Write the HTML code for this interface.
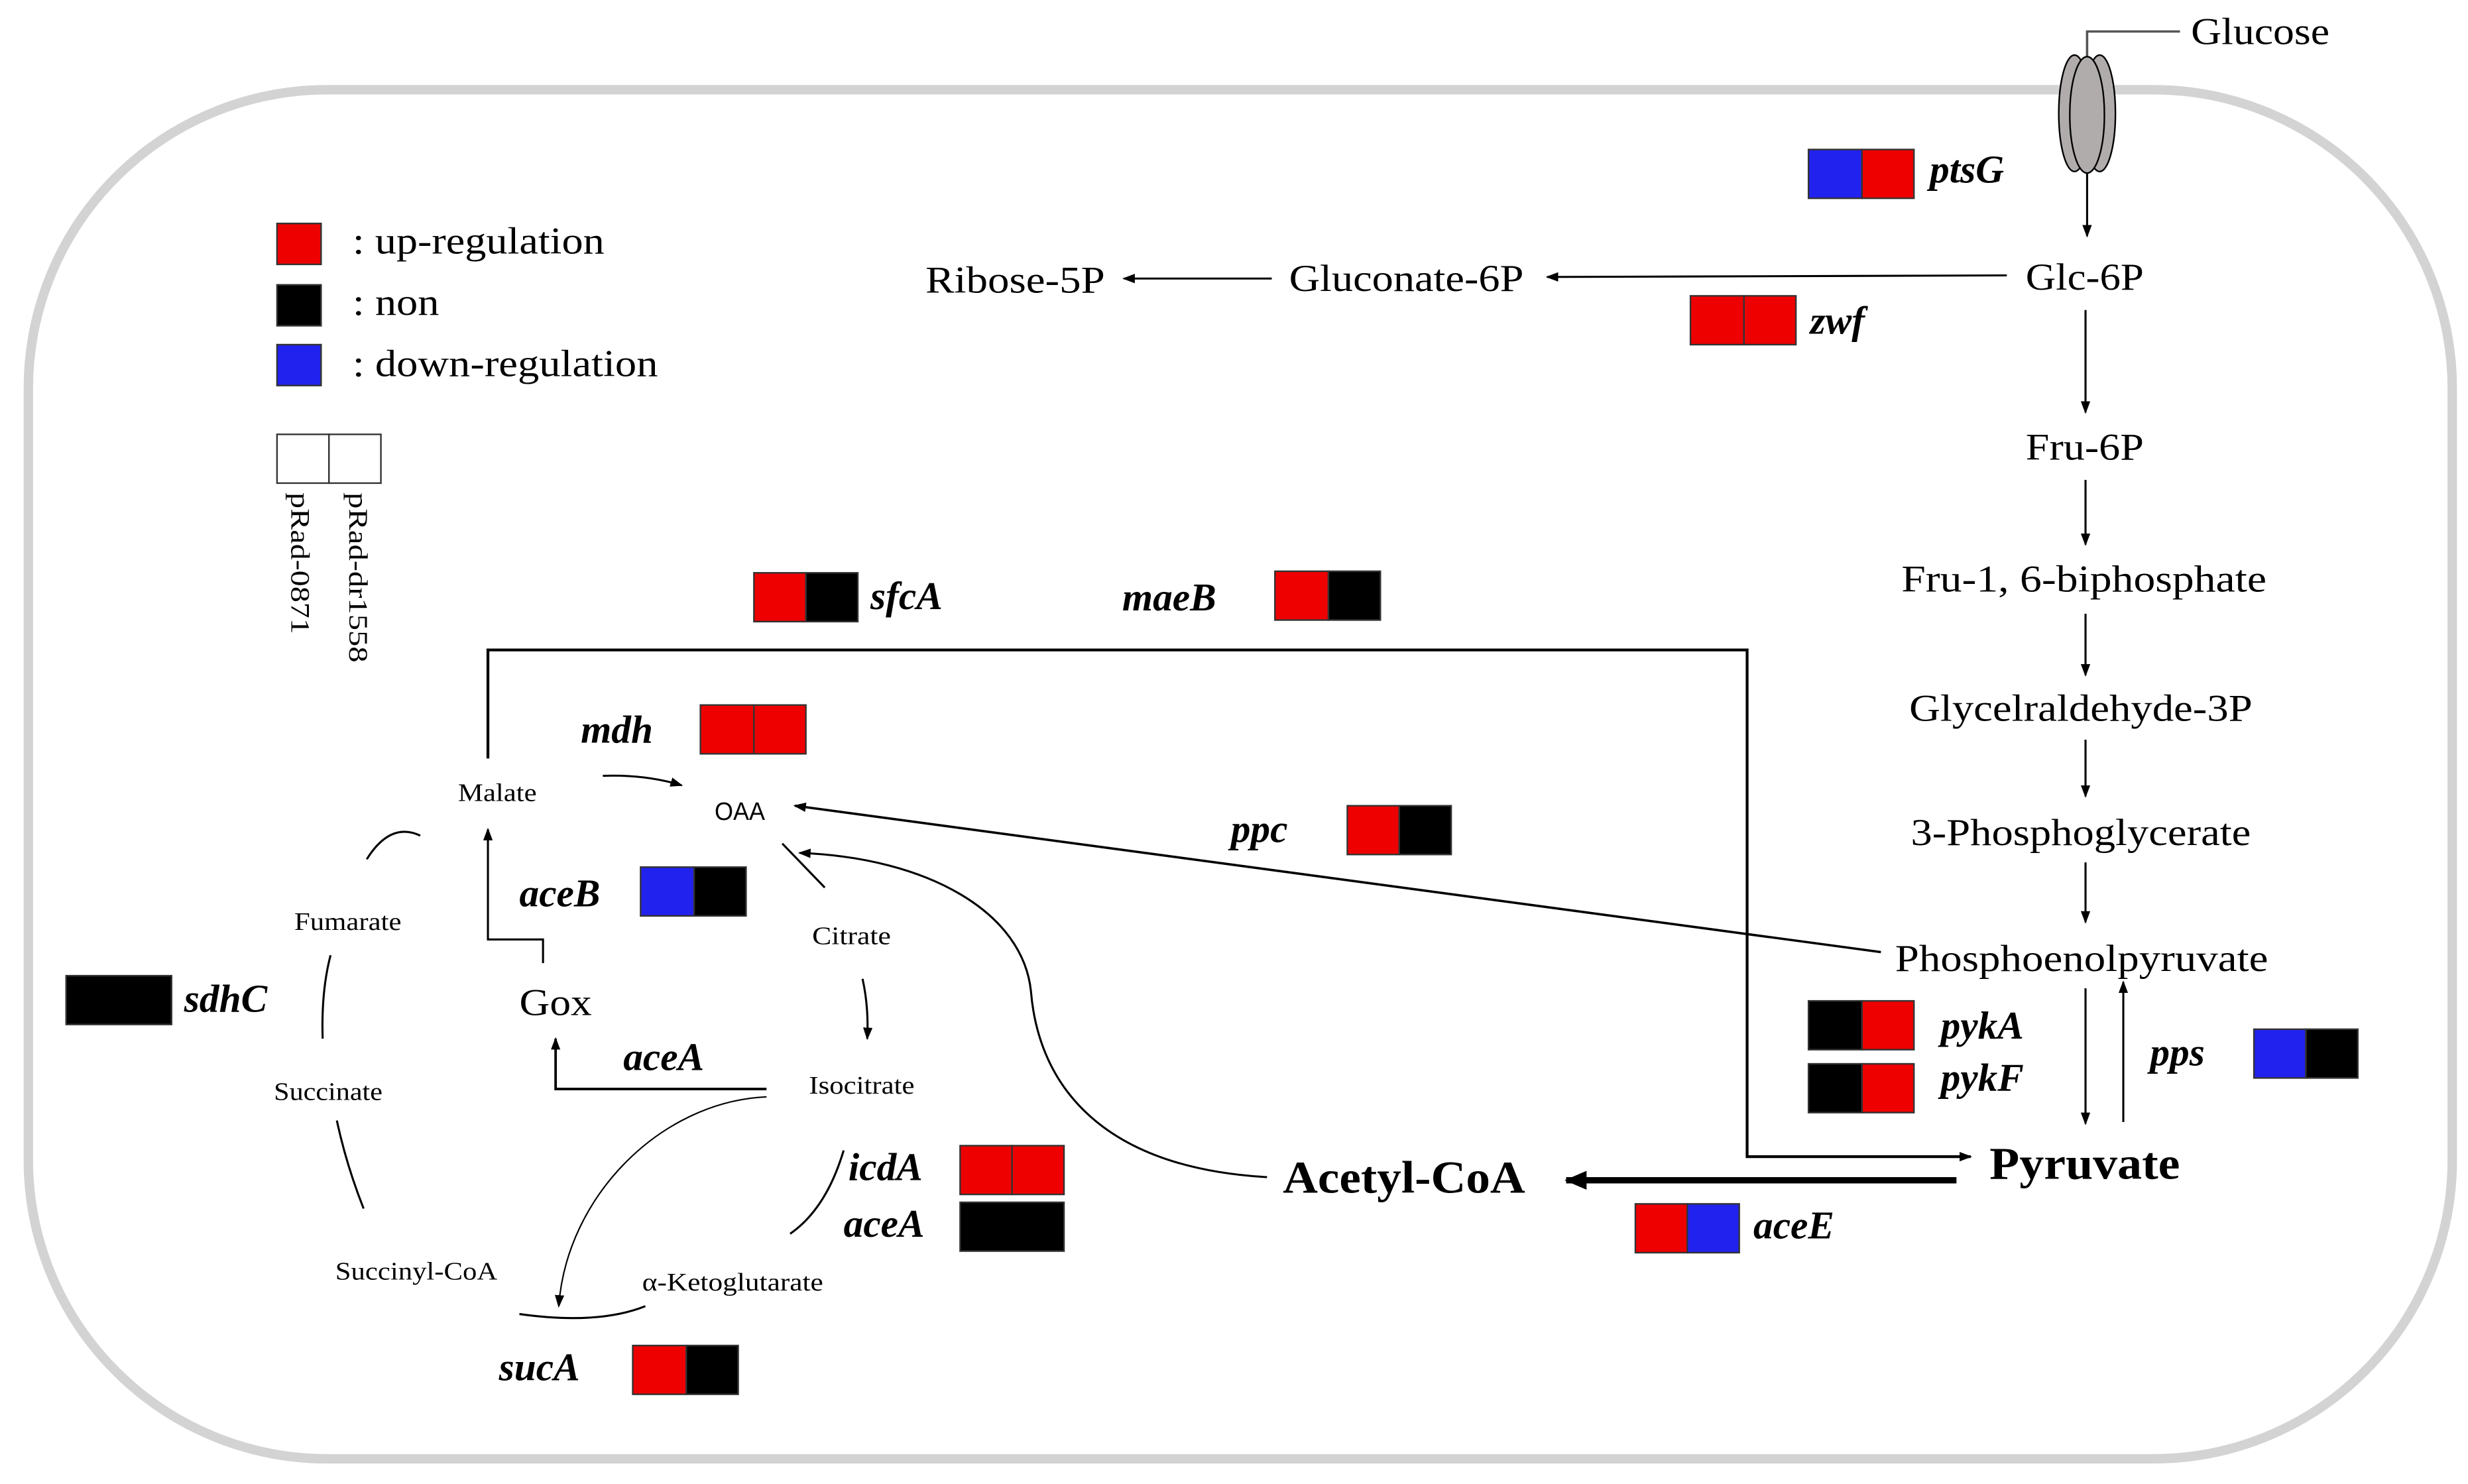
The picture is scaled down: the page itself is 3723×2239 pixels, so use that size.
<!DOCTYPE html>
<html><head><meta charset="utf-8"><style>html,body{margin:0;padding:0;background:#fff}svg{display:block}</style></head>
<body>
<svg width="3723" height="2239" viewBox="0 0 1568 943" preserveAspectRatio="none" xmlns="http://www.w3.org/2000/svg" font-family="'Liberation Serif', serif">
<defs>
<marker id="a" markerWidth="8" markerHeight="8" refX="7" refY="4" orient="auto" markerUnits="userSpaceOnUse"><path d="M0,1 L8,4 L0,7 Z" fill="#000"/></marker>
<marker id="b" markerWidth="14" markerHeight="12" refX="13" refY="6" orient="auto" markerUnits="userSpaceOnUse"><path d="M0,0 L14,6 L0,12 Z" fill="#000"/></marker>
</defs>
<rect x="18" y="57" width="1540" height="870" rx="190" ry="190" fill="none" stroke="#d3d3d3" stroke-width="6"/>
<path d="M1385,20 L1326,20 L1326,40" fill="none" stroke="#555" stroke-width="1.5"/>
<ellipse cx="1318" cy="72" rx="10" ry="37" fill="#b0acac" stroke="#000" stroke-width="1"/>
<ellipse cx="1334" cy="72" rx="10" ry="37" fill="#b0acac" stroke="#000" stroke-width="1"/>
<ellipse cx="1326" cy="73" rx="11" ry="37" fill="#b0acac" stroke="#000" stroke-width="1"/>
<g fill="none" stroke="#000" stroke-width="1.3">
<line x1="1326" y1="110" x2="1326" y2="150" marker-end="url(#a)"/>
<line x1="1275" y1="175" x2="983" y2="176" marker-end="url(#a)"/>
<line x1="808" y1="177" x2="714" y2="177" marker-end="url(#a)"/>
<line x1="1325" y1="197" x2="1325" y2="262" marker-end="url(#a)"/>
<line x1="1325" y1="305" x2="1325" y2="346" marker-end="url(#a)"/>
<line x1="1325" y1="390" x2="1325" y2="429" marker-end="url(#a)"/>
<line x1="1325" y1="470" x2="1325" y2="506" marker-end="url(#a)"/>
<line x1="1325" y1="548" x2="1325" y2="586" marker-end="url(#a)"/>
<line x1="1325" y1="628" x2="1325" y2="714" marker-end="url(#a)"/>
<line x1="1349" y1="713" x2="1349" y2="624" marker-end="url(#a)"/>
<path d="M310,482 L310,413 L1110,413 L1110,735 L1252,735" stroke-width="1.8" marker-end="url(#a)"/>
<line x1="1195" y1="605" x2="505" y2="512" stroke-width="1.5" marker-end="url(#a)"/>
<path d="M805,748 C700,742 660,690 655,630 C650,580 590,545 508,542" marker-end="url(#a)"/>
<path d="M383,493 Q410,492 433,499" marker-end="url(#a)"/>
<line x1="497" y1="536" x2="524" y2="564"/>
<path d="M548,622 Q552,640 551,660" marker-end="url(#a)"/>
<path d="M487,692 L353,692 L353,660" stroke-width="1.6" marker-end="url(#a)"/>
<path d="M345,612 L345,597 L310,597 L310,527" marker-end="url(#a)"/>
<path d="M487,697 C420,700 360,760 355,830" stroke-width="0.9" marker-end="url(#a)"/>
<path d="M536,731 Q525,768 502,784"/>
<path d="M410,830 Q380,842 330,835"/>
<path d="M231,768 Q220,740 214,712"/>
<path d="M205,660 Q204,630 210,607"/>
<path d="M233,546 Q248,522 267,531"/>
</g>
<line x1="1243" y1="750" x2="995" y2="750" stroke="#000" stroke-width="4" marker-end="url(#b)"/>
<g stroke="#333" stroke-width="1">
<rect x="1149" y="95" width="34" height="31" fill="#2222ee"/><rect x="1183" y="95" width="33" height="31" fill="#ee0000"/>
<rect x="1074" y="188" width="34" height="31" fill="#ee0000"/><rect x="1108" y="188" width="33" height="31" fill="#ee0000"/>
<rect x="479" y="364" width="33" height="31" fill="#ee0000"/><rect x="512" y="364" width="33" height="31" fill="#000"/>
<rect x="810" y="363" width="34" height="31" fill="#ee0000"/><rect x="844" y="363" width="33" height="31" fill="#000"/>
<rect x="445" y="448" width="34" height="31" fill="#ee0000"/><rect x="479" y="448" width="33" height="31" fill="#ee0000"/>
<rect x="856" y="512" width="33" height="31" fill="#ee0000"/><rect x="889" y="512" width="33" height="31" fill="#000"/>
<rect x="407" y="551" width="34" height="31" fill="#2222ee"/><rect x="441" y="551" width="33" height="31" fill="#000"/>
<rect x="42" y="620" width="67" height="31" fill="#000"/>
<rect x="1149" y="636" width="34" height="31" fill="#000"/><rect x="1183" y="636" width="33" height="31" fill="#ee0000"/>
<rect x="1149" y="676" width="34" height="31" fill="#000"/><rect x="1183" y="676" width="33" height="31" fill="#ee0000"/>
<rect x="1432" y="654" width="33" height="31" fill="#2222ee"/><rect x="1465" y="654" width="33" height="31" fill="#000"/>
<rect x="610" y="728" width="33" height="31" fill="#ee0000"/><rect x="643" y="728" width="33" height="31" fill="#ee0000"/>
<rect x="610" y="764" width="66" height="31" fill="#000"/>
<rect x="1039" y="765" width="33" height="31" fill="#ee0000"/><rect x="1072" y="765" width="33" height="31" fill="#2222ee"/>
<rect x="402" y="855" width="34" height="31" fill="#ee0000"/><rect x="436" y="855" width="33" height="31" fill="#000"/>
<rect x="176" y="142" width="28" height="26" fill="#ee0000"/>
<rect x="176" y="181" width="28" height="26" fill="#000"/>
<rect x="176" y="219" width="28" height="26" fill="#2222ee"/>
<rect x="176" y="276" width="33" height="31" fill="#fff"/><rect x="209" y="276" width="33" height="31" fill="#fff"/>
</g>
<g font-size="24" fill="#000" lengthAdjust="spacingAndGlyphs">
<text x="224" y="161" textLength="160" lengthAdjust="spacingAndGlyphs">: up-regulation</text>
<text x="224" y="200" textLength="55" lengthAdjust="spacingAndGlyphs">: non</text>
<text x="224" y="239" textLength="194" lengthAdjust="spacingAndGlyphs">: down-regulation</text>
</g>
<text font-size="17" transform="translate(185,313) rotate(90)" textLength="90" lengthAdjust="spacingAndGlyphs">pRad-0871</text>
<text font-size="17" transform="translate(222,313) rotate(90)" textLength="108" lengthAdjust="spacingAndGlyphs">pRad-dr1558</text>
<g font-size="24" fill="#000">
<text x="1392" y="28" textLength="88" lengthAdjust="spacingAndGlyphs">Glucose</text>
<text x="1287" y="184" textLength="75" lengthAdjust="spacingAndGlyphs">Glc-6P</text>
<text x="819" y="185" textLength="149" lengthAdjust="spacingAndGlyphs">Gluconate-6P</text>
<text x="588" y="186" textLength="114" lengthAdjust="spacingAndGlyphs">Ribose-5P</text>
<text x="1287" y="292" textLength="75" lengthAdjust="spacingAndGlyphs">Fru-6P</text>
<text x="1208" y="376" textLength="232" lengthAdjust="spacingAndGlyphs">Fru-1, 6-biphosphate</text>
<text x="1213" y="458" textLength="218" lengthAdjust="spacingAndGlyphs">Glycelraldehyde-3P</text>
<text x="1214" y="537" textLength="216" lengthAdjust="spacingAndGlyphs">3-Phosphoglycerate</text>
<text x="1204" y="617" textLength="237" lengthAdjust="spacingAndGlyphs">Phosphoenolpyruvate</text>
<text x="330" y="645" textLength="46" lengthAdjust="spacingAndGlyphs">Gox</text>
</g>
<g font-size="29" font-weight="bold">
<text x="1264" y="749" textLength="121" lengthAdjust="spacingAndGlyphs">Pyruvate</text>
<text x="815" y="758" textLength="154" lengthAdjust="spacingAndGlyphs">Acetyl-CoA</text>
</g>
<g font-size="16">
<text x="291" y="509" textLength="50" lengthAdjust="spacingAndGlyphs">Malate</text>
<text x="454" y="521" font-family="'Liberation Sans', sans-serif" font-size="16" textLength="32" lengthAdjust="spacingAndGlyphs">OAA</text>
<text x="516" y="600" textLength="50" lengthAdjust="spacingAndGlyphs">Citrate</text>
<text x="514" y="695" textLength="67" lengthAdjust="spacingAndGlyphs">Isocitrate</text>
<text x="408" y="820" textLength="115" lengthAdjust="spacingAndGlyphs">α-Ketoglutarate</text>
<text x="213" y="813" textLength="103" lengthAdjust="spacingAndGlyphs">Succinyl-CoA</text>
<text x="174" y="699" textLength="69" lengthAdjust="spacingAndGlyphs">Succinate</text>
<text x="187" y="591" textLength="68" lengthAdjust="spacingAndGlyphs">Fumarate</text>
</g>
<g font-size="25" font-weight="bold" font-style="italic">
<text x="1226" y="116">ptsG</text>
<text x="1150" y="212">zwf</text>
<text x="553" y="387">sfcA</text>
<text x="713" y="388">maeB</text>
<text x="369" y="472">mdh</text>
<text x="782" y="535">ppc</text>
<text x="330" y="576">aceB</text>
<text x="117" y="643">sdhC</text>
<text x="396" y="680">aceA</text>
<text x="1233" y="660">pykA</text>
<text x="1233" y="693">pykF</text>
<text x="1366" y="677">pps</text>
<text x="539" y="750">icdA</text>
<text x="536" y="786">aceA</text>
<text x="1114" y="787">aceE</text>
<text x="317" y="877">sucA</text>
</g>
</svg>
</body></html>
